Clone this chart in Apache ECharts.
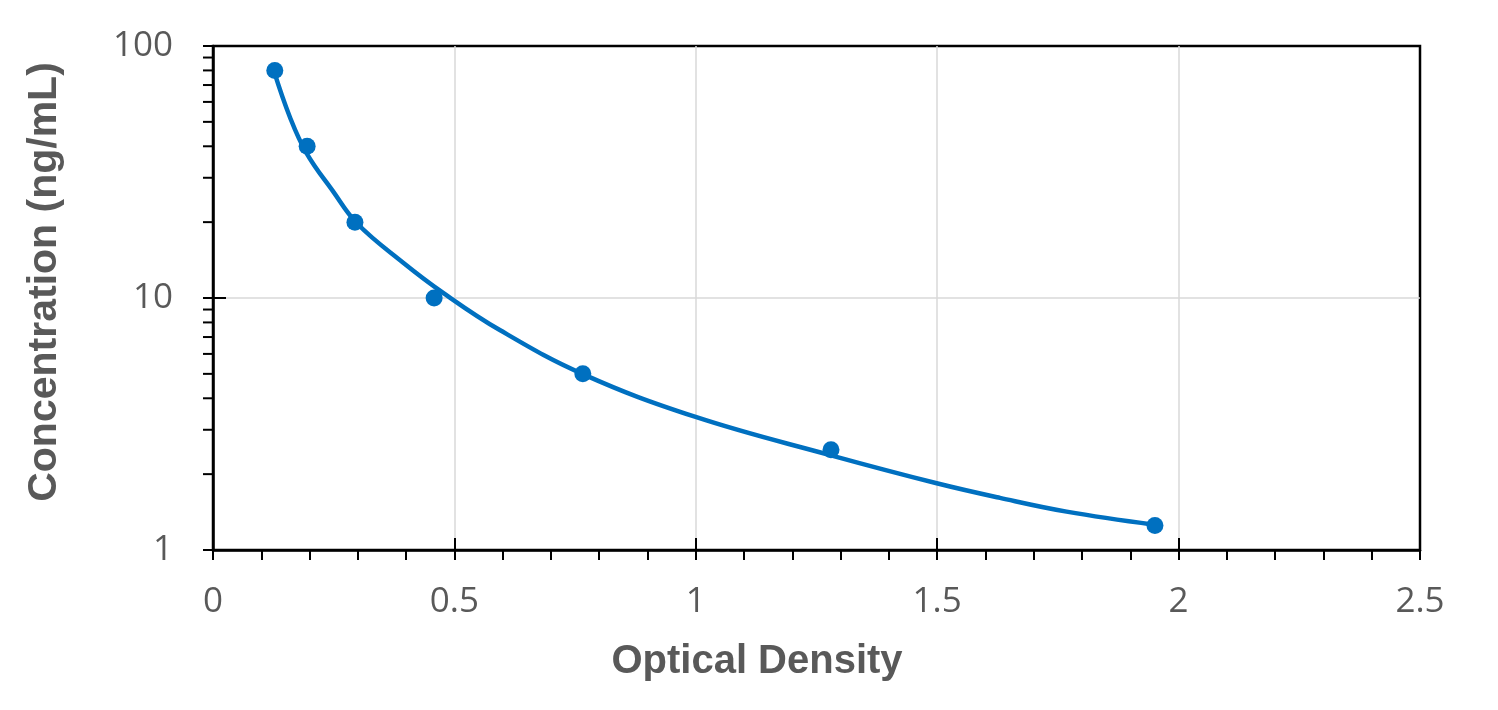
<!DOCTYPE html>
<html>
<head>
<meta charset="utf-8">
<script src="https://cdn.jsdelivr.net/npm/echarts@6/dist/echarts.min.js"></script>
<style>
  html, body { margin: 0; padding: 0; background: #fff; }
  #main { width: 1498px; height: 710px; }
</style>
</head>
<body>
<div id="main"></div>
<script>
// 标准曲线数据
var odValues = [0.128, 0.195, 0.294, 0.458, 0.766, 1.28, 1.951];
var concValues = [80, 40, 20, 10, 5, 2.5, 1.25];

// 拟合曲线，沿曲线读取的点
var fitOD = [0.126, 0.159, 0.194, 0.248, 0.298, 0.394, 0.476, 0.594, 0.766, 0.998, 1.278, 1.499, 1.630, 1.768, 1.949];
var fitConc = [79.8, 52.4, 37.5, 26.6, 19.8, 13.8, 10.5, 7.46, 4.99, 3.38, 2.38, 1.84, 1.61, 1.42, 1.26];

// 对数轴的次刻度
var yMinorTicks = [2, 3, 4, 5, 6, 7, 8, 9, 20, 30, 40, 50, 60, 70, 80, 90];

var blue = '#0070C0';
var labelColor = '#595959';

var _chart = echarts.init(document.getElementById('main'));
_chart.setOption({
    animation: false,
    grid: {
        left: 213, right: 78, top: 46, bottom: 160,
        show: true, borderColor: '#000', borderWidth: 2.5
    },
    xAxis: [
        {
            type: 'value',
            min: 0, max: 2.5, interval: 0.5,
            axisLine: { show: true, lineStyle: { color: '#000', width: 2.5 } },
            axisTick: { show: true, length: 10, lineStyle: { color: '#000', width: 2 } },
            minorTick: { show: true, splitNumber: 5, length: 10, lineStyle: { color: '#000', width: 2 } },
            splitLine: { show: true, showMinLine: false, showMaxLine: false, lineStyle: { color: '#d9d9d9', width: 1.5 } },
            axisLabel: { color: labelColor, fontFamily: 'Open Sans', fontSize: 35, margin: 35 }
        },
        {
            type: 'value', position: 'bottom',
            min: 0, max: 2.5, interval: 0.5,
            axisLine: { show: false },
            axisTick: { show: true, inside: true, length: 12, lineStyle: { color: '#000', width: 2 } },
            splitLine: { show: false },
            axisLabel: { show: false }
        }
    ],
    yAxis: [
        {
            type: 'log', logBase: 10,
            min: 1, max: 100,
            axisLine: { show: true, lineStyle: { color: '#000', width: 2.5 } },
            axisTick: { show: true, length: 10, lineStyle: { color: '#000', width: 2 } },
            splitLine: { show: true, showMinLine: false, showMaxLine: false, lineStyle: { color: '#d9d9d9', width: 1.5 } },
            axisLabel: { color: labelColor, fontFamily: 'Open Sans', fontSize: 35, margin: 40 }
        },
        {
            type: 'log', logBase: 10, position: 'left',
            min: 1, max: 100,
            axisLine: { show: false },
            axisTick: { show: true, inside: true, length: 13, lineStyle: { color: '#000', width: 2 } },
            splitLine: { show: false },
            axisLabel: { show: false }
        }
    ],
    graphic: [
        {
            type: 'text', x: 757, y: 662,
            style: {
                text: 'Optical Density',
                font: 'bold 40px "Liberation Sans", Arial, sans-serif',
                fill: labelColor, align: 'center', verticalAlign: 'middle'
            }
        },
        {
            type: 'text', x: 45, y: 282, rotation: Math.PI / 2,
            style: {
                text: 'Concentration (ng/mL)',
                font: 'bold 41px "Liberation Sans", Arial, sans-serif',
                fill: labelColor, align: 'center', verticalAlign: 'middle'
            }
        }
    ],
    series: [
        {
            name: 'fit',
            type: 'line',
            data: fitOD.map(function (x, i) { return [x, fitConc[i]]; }),
            smooth: 0.4,
            showSymbol: false,
            lineStyle: { color: blue, width: 4.5 },
            z: 3
        },
        {
            name: 'standard',
            type: 'scatter',
            data: odValues.map(function (x, i) { return [x, concValues[i]]; }),
            symbolSize: 17,
            itemStyle: { color: blue, opacity: 1 },
            z: 4
        },
        {
            name: 'yMinor',
            type: 'custom',
            silent: true,
            data: yMinorTicks.map(function (v) { return [0, v]; }),
            renderItem: function (params, api) {
                var p = api.coord([0, api.value(1)]);
                return {
                    type: 'line',
                    shape: { x1: p[0] - 10, y1: p[1], x2: p[0], y2: p[1] },
                    style: { stroke: '#000', lineWidth: 2 }
                };
            },
            clip: false,
            z: 5
        }
    ]
});
</script>
</body>
</html>
